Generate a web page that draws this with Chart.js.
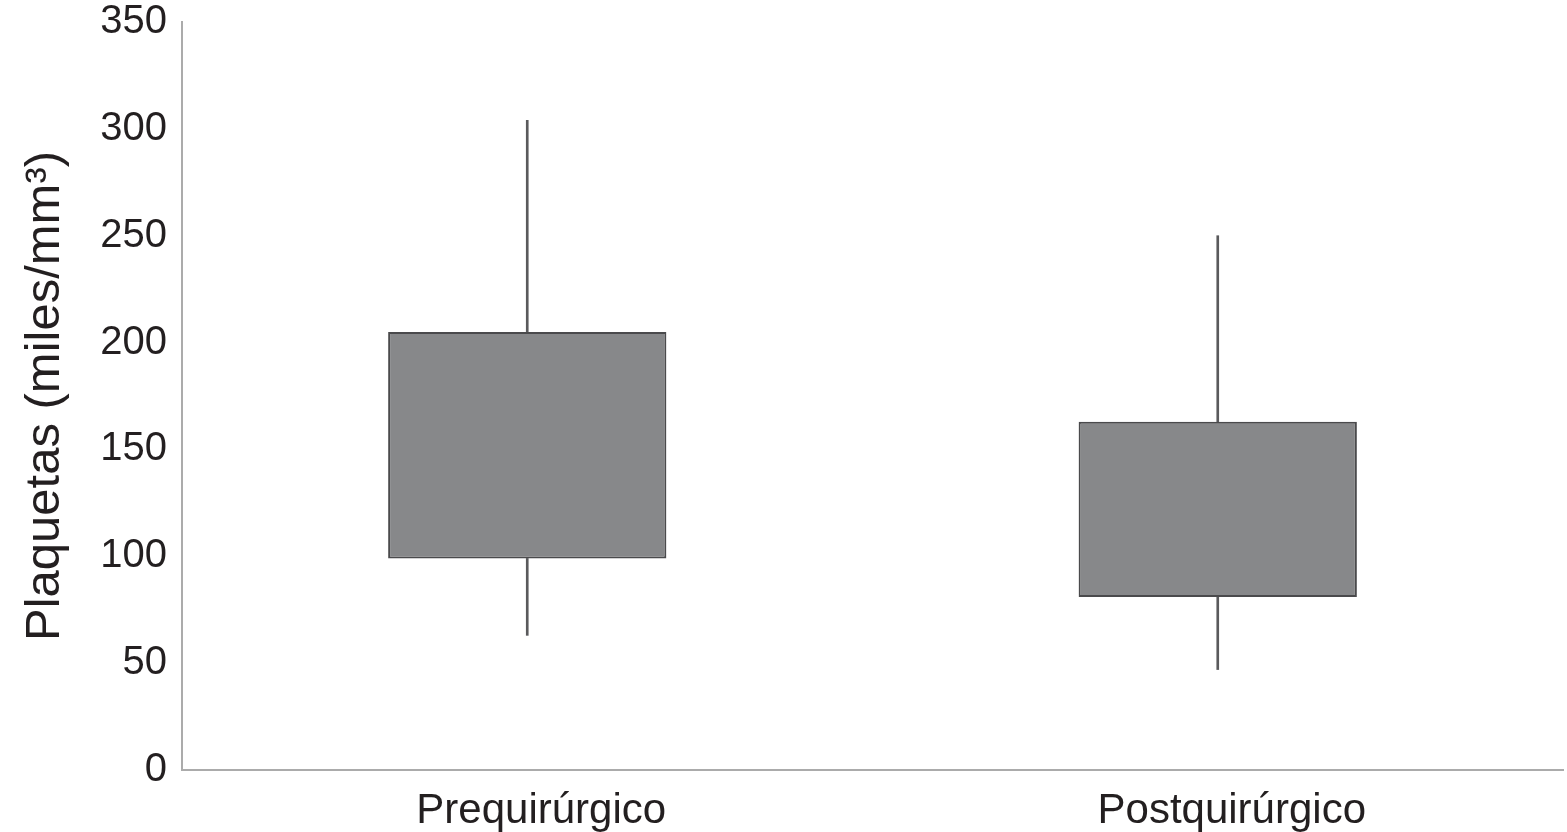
<!DOCTYPE html>
<html>
<head>
<meta charset="utf-8">
<script src="https://cdn.jsdelivr.net/npm/chart.js@4.4.0/dist/chart.umd.min.js"></script>
<style>
  html, body { margin: 0; padding: 0; background: #fff; }
  #plaquetas { display: block; }
</style>
</head>
<body>
<canvas id="plaquetas" width="1567" height="832"></canvas>
<script>
'use strict';

// Data
const categories = ['Prequirúrgico', 'Postquirúrgico'];
const minValues = [63, 47];
const q1Values = [99, 81];
const q3Values = [205, 163];
const maxValues = [304, 250];
const yTicks = [0, 50, 100, 150, 200, 250, 300, 350];

// Colours
const boxColor = '#87888a',
    boxBorder = '#4a4a4c',
    whiskerColor = '#5a5a5c',
    axisColor = '#ababab',
    textColor = '#231f20';

const fontFamily = '"Liberation Sans", Arial, Helvetica, sans-serif';

(function () {
    const ctx = document.getElementById('plaquetas');

    const lowWhiskers = categories.map((c, i) => [minValues[i], q1Values[i]]);
    const highWhiskers = categories.map((c, i) => [q3Values[i], maxValues[i]]);
    const boxes = categories.map((c, i) => [q1Values[i], q3Values[i]]);

    new Chart(ctx, {
        type: 'bar',
        data: {
            labels: categories,
            datasets: [
                {
                    data: boxes,
                    grouped: false,
                    backgroundColor: boxColor,
                    borderColor: boxBorder,
                    borderWidth: 2,
                    borderSkipped: false,
                    categoryPercentage: 1,
                    barPercentage: 0.403
                },
                {
                    data: lowWhiskers,
                    grouped: false,
                    backgroundColor: whiskerColor,
                    borderWidth: 0,
                    barThickness: 2
                },
                {
                    data: highWhiskers,
                    grouped: false,
                    backgroundColor: whiskerColor,
                    borderWidth: 0,
                    barThickness: 2
                }
            ]
        },
        options: {
            responsive: false,
            animation: false,
            layout: {
                padding: { top: 22, right: 4, left: 0, bottom: 0 }
            },
            plugins: {
                legend: { display: false },
                tooltip: { enabled: false }
            },
            scales: {
                x: {
                    grid: { display: false, drawTicks: false },
                    border: { display: true, color: axisColor, width: 2 },
                    ticks: {
                        color: textColor,
                        font: { family: fontFamily, size: 42 },
                        padding: 16,
                        labelOffset: 14
                    },
                    afterFit: function (scale) {
                        scale.height = 62;
                    }
                },
                y: {
                    min: 0,
                    max: 350,
                    grid: { display: false, drawTicks: false },
                    border: { display: true, color: axisColor, width: 2 },
                    afterBuildTicks: function (scale) {
                        scale.ticks = yTicks.map(v => ({ value: v }));
                    },
                    ticks: {
                        color: textColor,
                        font: { family: fontFamily, size: 40 },
                        padding: 15
                    },
                    title: {
                        display: true,
                        text: 'Plaquetas (miles/mm³)',
                        color: textColor,
                        font: { family: fontFamily, size: 49 },
                        padding: { top: 16, bottom: 6 }
                    },
                    afterFit: function (scale) {
                        scale.width = 182;
                        scale.paddingTop = 0;
                        scale.paddingBottom = 0;
                    }
                }
            }
        }
    });
})();
</script>
</body>
</html>
